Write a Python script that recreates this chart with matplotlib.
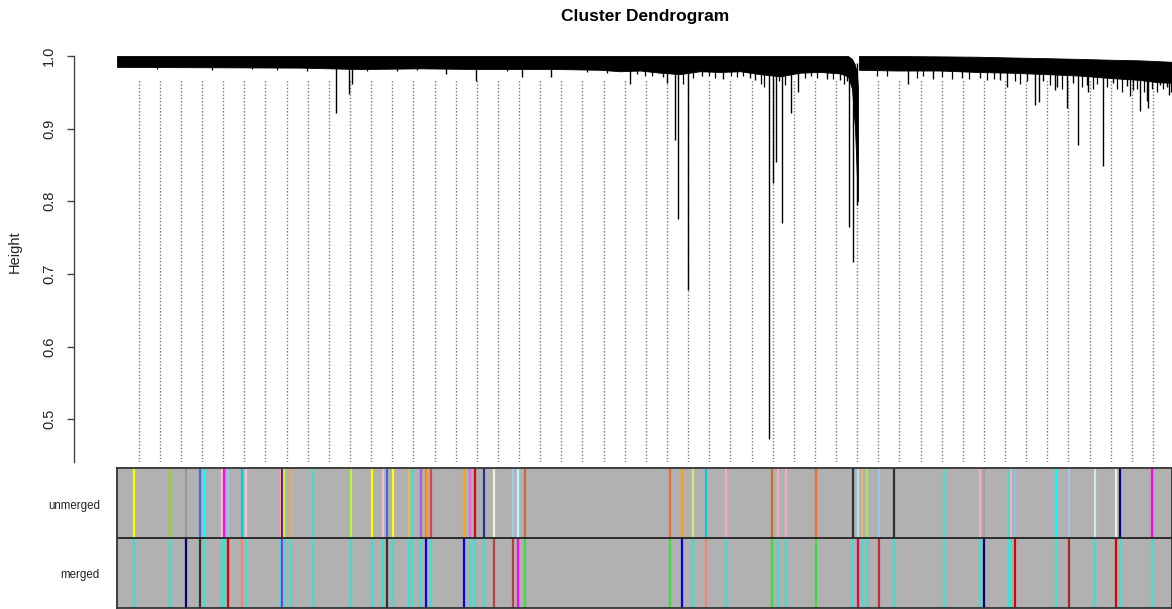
import numpy as np
import matplotlib.pyplot as plt

plt.rcParams['font.family'] = ['Liberation Sans', 'DejaVu Sans']

# ==========================================
# 数据：树状图（横轴 = 叶子顺序位置 0..1055）
# ==========================================
n_leaf = 1055

# 顶部密集的黑色带（左段）
band_l_x = [0, 183, 243, 303, 363, 443, 483, 503, 523, 543, 563, 583, 603,
            623, 643, 663, 683, 703, 723, 731, 735, 738, 740, 741]
band_l_top = [1.0, 1.0, 1.0, 1.0, 1.0, 1.0, 1.0, 1.0, 1.0, 1.0, 1.0, 1.0, 1.0,
              1.0, 1.0, 1.0, 1.0, 1.0, 1.0, 1.0, 0.996, 0.988, 0.975, 0.955]
band_l_bot = [0.985, 0.984, 0.982, 0.983, 0.982, 0.982, 0.981, 0.979, 0.980,
              0.977, 0.975, 0.979, 0.978, 0.979, 0.975, 0.972, 0.977, 0.978,
              0.976, 0.972, 0.955, 0.90, 0.83, 0.80]

# 顶部黑色带（右段）
band_r_x = [742, 780, 823, 860, 893, 930, 963, 990, 1023, 1040, 1055]
band_r_top = [1.0, 1.0, 0.9995, 0.999, 0.998, 0.997, 0.996, 0.995, 0.994,
              0.993, 0.992]
band_r_bot = [0.981, 0.980, 0.980, 0.978, 0.977, 0.975, 0.973, 0.970, 0.967,
              0.964, 0.963]

# 下垂的分支（位置, 最低高度）
spike_x = [219, 232, 235, 329, 359, 405, 434, 513, 546, 550, 558, 561, 571,
           606, 633, 638, 652, 656, 659, 665, 674, 681, 710, 723, 730, 732,
           736, 740, 791, 816, 845, 863, 883, 890, 910, 918, 922, 926, 938,
           940, 950, 956, 961, 970, 971, 986, 996, 1010, 1016, 1023, 1030,
           1031, 1043, 1050, 1052]
spike_h = [0.921, 0.947, 0.961, 0.975, 0.966, 0.971, 0.971, 0.961, 0.971,
           0.963, 0.884, 0.776, 0.678, 0.969, 0.970, 0.967, 0.473, 0.825,
           0.854, 0.770, 0.921, 0.951, 0.969, 0.967, 0.965, 0.765, 0.717,
           0.795, 0.961, 0.969, 0.970, 0.970, 0.967, 0.957, 0.966, 0.933,
           0.936, 0.966, 0.953, 0.957, 0.929, 0.963, 0.878, 0.960, 0.951,
           0.849, 0.963, 0.959, 0.953, 0.924, 0.938, 0.928, 0.960, 0.957,
           0.946]

# 黑色带下缘的细小分支
twig_x = [40, 95, 135, 160, 190, 250, 280, 300, 390, 470, 490, 520, 528, 535,
          566, 576, 585, 592, 598, 614, 620, 626, 644, 647, 662, 668, 688,
          694, 700, 716, 727, 760, 770, 800, 806, 825, 835, 852, 870, 877,
          898, 903, 933, 945, 965, 976, 980, 990, 1000, 1005, 1013, 1020,
          1027, 1035, 1040, 1046, 1054]
twig_h = [0.982, 0.981, 0.982, 0.981, 0.980, 0.980, 0.980, 0.981, 0.980,
          0.978, 0.977, 0.975, 0.973, 0.972, 0.962, 0.970, 0.973, 0.972,
          0.970, 0.972, 0.971, 0.973, 0.962, 0.958, 0.965, 0.960, 0.970,
          0.972, 0.970, 0.968, 0.962, 0.972, 0.973, 0.970, 0.972, 0.971,
          0.968, 0.969, 0.967, 0.968, 0.965, 0.962, 0.960, 0.955, 0.958,
          0.955, 0.962, 0.958, 0.955, 0.950, 0.945, 0.955, 0.950, 0.955,
          0.950, 0.955, 0.950]

# ==========================================
# 数据：模块颜色条
# ==========================================
color_x = [17, 53, 69, 83, 87, 105, 107, 111, 125, 129, 164, 165, 167, 174,
           196, 234, 255, 266, 270, 276, 292, 295, 304, 309, 314, 347, 353,
           358, 367, 377, 396, 401, 408, 553, 565, 576, 589, 609, 655, 661,
           669, 699, 736, 741, 745, 750, 762, 777, 827, 863, 867, 892, 894,
           898, 939, 952, 978, 999, 1003, 1035]
unmerged_cols = ['#FFFF00', '#9ACD32', '#999999', '#4169E1', '#00FFFF',
                 '#FFC0CB', '#FF00FF', '#87CEEB', '#00CED1', '#FFC0CB',
                 '#FFC0CB', '#8B008B', '#ADFF2F', '#F4A460', '#40E0D0',
                 '#ADFF2F', '#FFFF00', '#F0C0D0', '#4169E1', '#FFFF00',
                 '#CDC94E', '#40E0D0', '#A05FE0', '#FF8C00', '#E84040',
                 '#FFA500', '#EE60EE', '#CC1010', '#223399', '#EEEEDD',
                 '#A8C8E8', '#B0FFFF', '#CD6839', '#E8702A', '#FFA000',
                 '#CCEE66', '#00CED1', '#F0B0B8', '#CD6839', '#F0B0B8',
                 '#F0B0B8', '#E8702A', '#303030', '#B0E0F8', '#F0B070',
                 '#B0E060', '#90C8F0', '#303030', '#40E0D0', '#F0B0C0',
                 '#A0A0A0', '#40E0D0', '#F0B0C0', '#90C0F0', '#00FFFF',
                 '#A0C8F0', '#D0E8E0', '#F0F0D0', '#000080', '#FF00FF']
merged_cols = ['#40E0D0', '#40E0D0', '#000080', '#333333', '#40E0D0',
               '#40E0D0', '#40E0D0', '#E00000', '#FA8072', '#40E0D0',
               '#40E0D0', '#A020F0', '#40E0D0', '#40E0D0', '#40E0D0',
               '#40E0D0', '#40E0D0', '#40E0D0', '#333333', '#40E0D0',
               '#40E0D0', '#40E0D0', '#40E0D0', '#0000FF', '#40E0D0',
               '#0000FF', '#40E0D0', '#40E0D0', '#40E0D0', '#B84040',
               '#B84040', '#FF00FF', '#3CDC3C', '#3CDC3C', '#0000FF',
               '#40E0D0', '#FA8072', '#40E0D0', '#3CDC3C', '#40E0D0',
               '#40E0D0', '#3CDC3C', '#40E0D0', '#E8004A', '#40E0D0',
               '#40E0D0', '#C03030', '#40E0D0', '#40E0D0', '#40E0D0',
               '#000080', '#40E0D0', '#40E0D0', '#E00000', '#40E0D0',
               '#A52A2A', '#40E0D0', '#E00000', '#40E0D0', '#40E0D0']
row_labels = ['unmerged', 'merged']

W, H = 1172, 609
fig = plt.figure(figsize=(W / 100, H / 100), dpi=100)

# ==========================================
# 树状图
# ==========================================
ax = fig.add_axes([74 / W, 1 - 462 / H, 1098 / W, 406 / H])
ax.set_xlim(-43, n_leaf)
ax.set_ylim(0.441, 1.0)

# 引导虚线
guide_x = np.linspace(21.7, 1036, 49)
ax.vlines(guide_x, 0.441, 0.967, colors='#777777', lw=1.0,
          linestyles=(0, (1, 1.4)), zorder=1)

ax.fill_between(band_l_x, band_l_bot, band_l_top, color='black', lw=0.6,
                zorder=3)
ax.fill_between(band_r_x, band_r_bot, band_r_top, color='black', lw=0.6,
                zorder=3)
ax.vlines(spike_x, spike_h, 0.99, colors='black', lw=1.0, zorder=3)
ax.vlines(twig_x, twig_h, 0.99, colors='black', lw=0.9, zorder=3)

for s in ['top', 'right', 'bottom']:
    ax.spines[s].set_visible(False)
ax.spines['left'].set_color('#444444')
ax.spines['left'].set_linewidth(1.0)
ax.set_xticks([])
ax.set_yticks([0.5, 0.6, 0.7, 0.8, 0.9, 1.0])
ax.set_yticklabels(['0.5', '0.6', '0.7', '0.8', '0.9', '1.0'])
ax.tick_params(axis='y', length=5, width=1.0, color='#444444', pad=8,
               labelsize=10.5, labelcolor='#222222')
plt.setp(ax.get_yticklabels(), rotation=90, va='center')

fig.text(15 / W, 1 - 252 / H, 'Height', rotation=90, ha='center',
         va='center', fontsize=10.5, color='#222222')
fig.text(645 / W, 1 - 16 / H, 'Cluster Dendrogram', ha='center',
         va='center', fontsize=12.5, fontweight='bold')

# ==========================================
# 颜色条
# ==========================================
bx = fig.add_axes([117 / W, 1 - 608 / H, 1055 / W, 140 / H])
bx.set_xlim(0, n_leaf)
bx.set_ylim(0, 2)
bx.set_facecolor('#B1B1B1')
bx.vlines(color_x, 1, 2, colors=unmerged_cols, lw=1.6)
bx.vlines(color_x, 0, 1, colors=merged_cols, lw=1.6)
bx.axhline(1, color='#222222', lw=1.3)
bx.set_xticks([])
bx.set_yticks([])
for s in bx.spines.values():
    s.set_color('#333333')
    s.set_linewidth(1.3)

fig.text(100 / W, 1 - 506 / H, row_labels[0], ha='right', va='center',
         fontsize=8.3, color='#222222')
fig.text(100 / W, 1 - 575 / H, row_labels[1], ha='right', va='center',
         fontsize=8.3, color='#222222')

fig.savefig('out.png', dpi=100)
